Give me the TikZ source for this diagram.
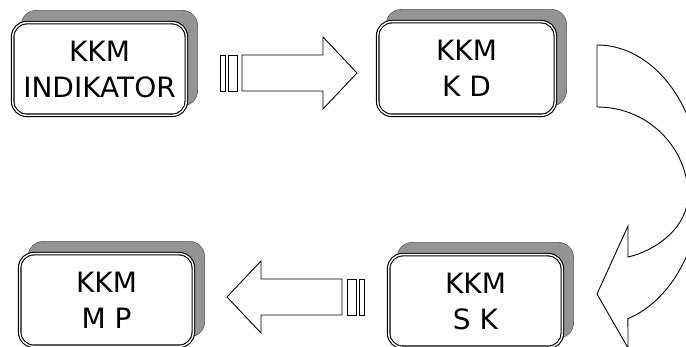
\documentclass[tikz,border=0pt]{standalone}
\usepackage{fontspec}
\setmainfont{DejaVu Sans}
\usetikzlibrary{backgrounds}
\tikzset{
  kasten/.style={draw, line width=1.1pt, double=white, double distance=1.4pt,
    rounded corners=14pt, fill=white, align=center, inner sep=0pt,
    minimum width=173.6pt, minimum height=92.6pt,
    font=\fontsize{28}{36}\selectfont},
  schatten/.style={fill=black!42, draw=black!65, line width=0.6pt, rounded corners=15pt},
  pfeil/.style={draw, fill=white, line width=0.9pt, line join=miter},
}
% Blockpfeil mit zwei Streifen, Ursprung am Streifenende
\newcommand{\blockpfeil}{%
  \draw[pfeil] (0,-18) rectangle (5,18);
  \draw[pfeil] (8,-18) rectangle (17,18);
  \draw[pfeil] (22,-18) -- (103,-18) -- (103,-36) -- (137,0)
    -- (103,36) -- (103,18) -- (22,18) -- cycle;
}
\begin{document}
\begin{tikzpicture}[x=1pt, y=-1pt]
\useasboundingbox (0,0) rectangle (686,347);
\clip (0,0) rectangle (686,347);
% Kaesten
\node[kasten] (ind) at (99.5,69) {KKM\\INDIKATOR};
\node[kasten, minimum width=177.6pt, minimum height=93.6pt] (kd) at (466.5,68.5) {KKM\\K D};
\node[kasten] (sk) at (475.5,301) {KKM\\S K};
\node[kasten] (mp) at (106.5,300) {KKM\\M P};
% Schatten hinter den Kaesten
\begin{scope}[on background layer]
  \fill[white] (0,0) rectangle (686,347);
  \foreach \k in {ind,kd,sk,mp}
    \draw[schatten] ([shift={(9pt,10pt)}]\k.south west)
      rectangle ([shift={(10.7pt,11.7pt)}]\k.north east);
\end{scope}
% Pfeil oben: INDIKATOR -> K D
\begin{scope}[shift={(220,73)}]
  \blockpfeil
\end{scope}
% Pfeil unten: S K -> M P
\begin{scope}[shift={(364,297)}, xscale=-1]
  \blockpfeil
\end{scope}
% gebogener Pfeil rechts: K D -> S K
\draw[pfeil] (597,45) arc[start angle=-90, end angle=72.7, x radius=104, y radius=140]
  -- (628,348) -- (597,294) -- (628,226) -- (628,257)
  .. controls (655,251) and (688,228) .. (688,195)
  .. controls (688,150) and (650,107) .. (597,107) -- cycle;
\end{tikzpicture}
\end{document}
